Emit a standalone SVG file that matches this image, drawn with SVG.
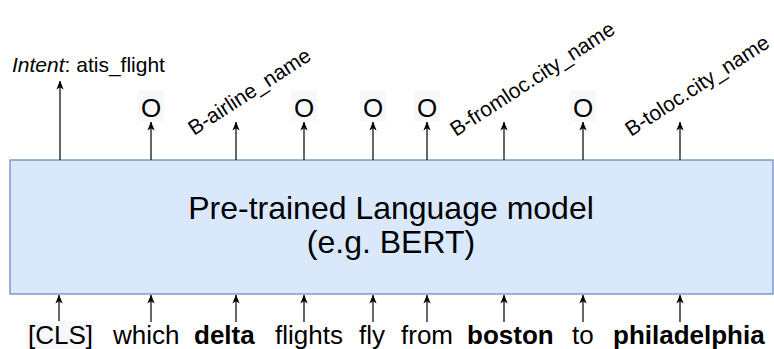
<svg xmlns="http://www.w3.org/2000/svg" width="774" height="349" viewBox="0 0 774 349">
  <style>
    text { font-family: "Liberation Sans", Arial, sans-serif; fill: #000; }
    .tok { font-size: 26px; }
    .b { font-weight: bold; }
    .tag { font-size: 26px; text-anchor: middle; }
    .slot { font-size: 21px; }
    .intent { font-size: 21px; }
    .title { font-size: 32px; text-anchor: middle; }
    .edge { stroke: #000; stroke-width: 1.2; fill: none; marker-end: url(#arrow); }
    .lblbg { fill: #f7f8fa; }
  </style>
  <defs>
    <marker id="arrow" viewBox="0 0 10 8" refX="9.5" refY="4" markerWidth="9" markerHeight="8" markerUnits="userSpaceOnUse" orient="auto">
      <path d="M0,0 L10,4 L0,8 L2.5,4 Z" fill="#000"/>
    </marker>
  </defs>

  <rect width="774" height="349" fill="#fff"/>

  <!-- encoder block -->
  <g id="model">
    <rect x="10" y="160" width="763" height="134" fill="#dae8fc" stroke="#6c8ebf" stroke-width="1.3"/>
    <text class="title" x="391" y="219">Pre-trained Language model</text>
    <text class="title" x="391" y="253">(e.g. BERT)</text>
  </g>

  <!-- connectors: token inputs and label outputs -->
  <g id="connectors">
    <line class="edge" x1="59" y1="322" x2="59" y2="295"/>
    <line class="edge" x1="151" y1="322" x2="151" y2="295"/>
    <line class="edge" x1="236" y1="322" x2="236" y2="295"/>
    <line class="edge" x1="304" y1="322" x2="304" y2="295"/>
    <line class="edge" x1="373" y1="322" x2="373" y2="295"/>
    <line class="edge" x1="427" y1="322" x2="427" y2="295"/>
    <line class="edge" x1="504" y1="322" x2="504" y2="295"/>
    <line class="edge" x1="583" y1="322" x2="583" y2="295"/>
    <line class="edge" x1="680" y1="322" x2="680" y2="295"/>

    <line class="edge" x1="60" y1="160" x2="60" y2="81"/>
    <line class="edge" x1="151" y1="160" x2="151" y2="122"/>
    <line class="edge" x1="236" y1="160" x2="236" y2="122"/>
    <line class="edge" x1="304" y1="160" x2="304" y2="122"/>
    <line class="edge" x1="373" y1="160" x2="373" y2="122"/>
    <line class="edge" x1="427" y1="160" x2="427" y2="122"/>
    <line class="edge" x1="504" y1="160" x2="504" y2="122"/>
    <line class="edge" x1="583" y1="160" x2="583" y2="122"/>
    <line class="edge" x1="680" y1="160" x2="680" y2="122"/>
  </g>

  <!-- input tokens -->
  <g id="tokens">
    <rect class="lblbg" x="26" y="321" width="68" height="28"/>
    <text class="tok" x="28" y="344">[CLS]</text>
    <text class="tok" x="113" y="344">which</text>
    <text class="tok b" x="194" y="344">delta</text>
    <text class="tok" x="275" y="344">flights</text>
    <text class="tok" x="359" y="344">fly</text>
    <text class="tok" x="401" y="344">from</text>
    <text class="tok b" x="467" y="344">boston</text>
    <text class="tok" x="572" y="344">to</text>
    <text class="tok b" x="613" y="344">philadelphia</text>
  </g>

  <!-- intent output -->
  <g id="intent">
    <text class="intent" x="12" y="72"><tspan font-style="italic">Intent</tspan>: atis_flight</text>
  </g>

  <!-- slot tags -->
  <g id="tags">
    <rect class="lblbg" x="138" y="90" width="26" height="31"/>
    <text class="tag" x="151" y="117">O</text>
    <rect class="lblbg" x="291" y="90" width="26" height="31"/>
    <text class="tag" x="304" y="117">O</text>
    <rect class="lblbg" x="360" y="90" width="26" height="31"/>
    <text class="tag" x="373" y="117">O</text>
    <rect class="lblbg" x="414" y="90" width="26" height="31"/>
    <text class="tag" x="427" y="117">O</text>
    <rect class="lblbg" x="570" y="90" width="26" height="31"/>
    <text class="tag" x="583" y="117">O</text>

    <text class="slot" transform="translate(194 136) rotate(-33)">B-airline_name</text>
    <text class="slot" transform="translate(456 137) rotate(-33)">B-fromloc.city_name</text>
    <text class="slot" transform="translate(631 137) rotate(-33)">B-toloc.city_name</text>
  </g>
</svg>
